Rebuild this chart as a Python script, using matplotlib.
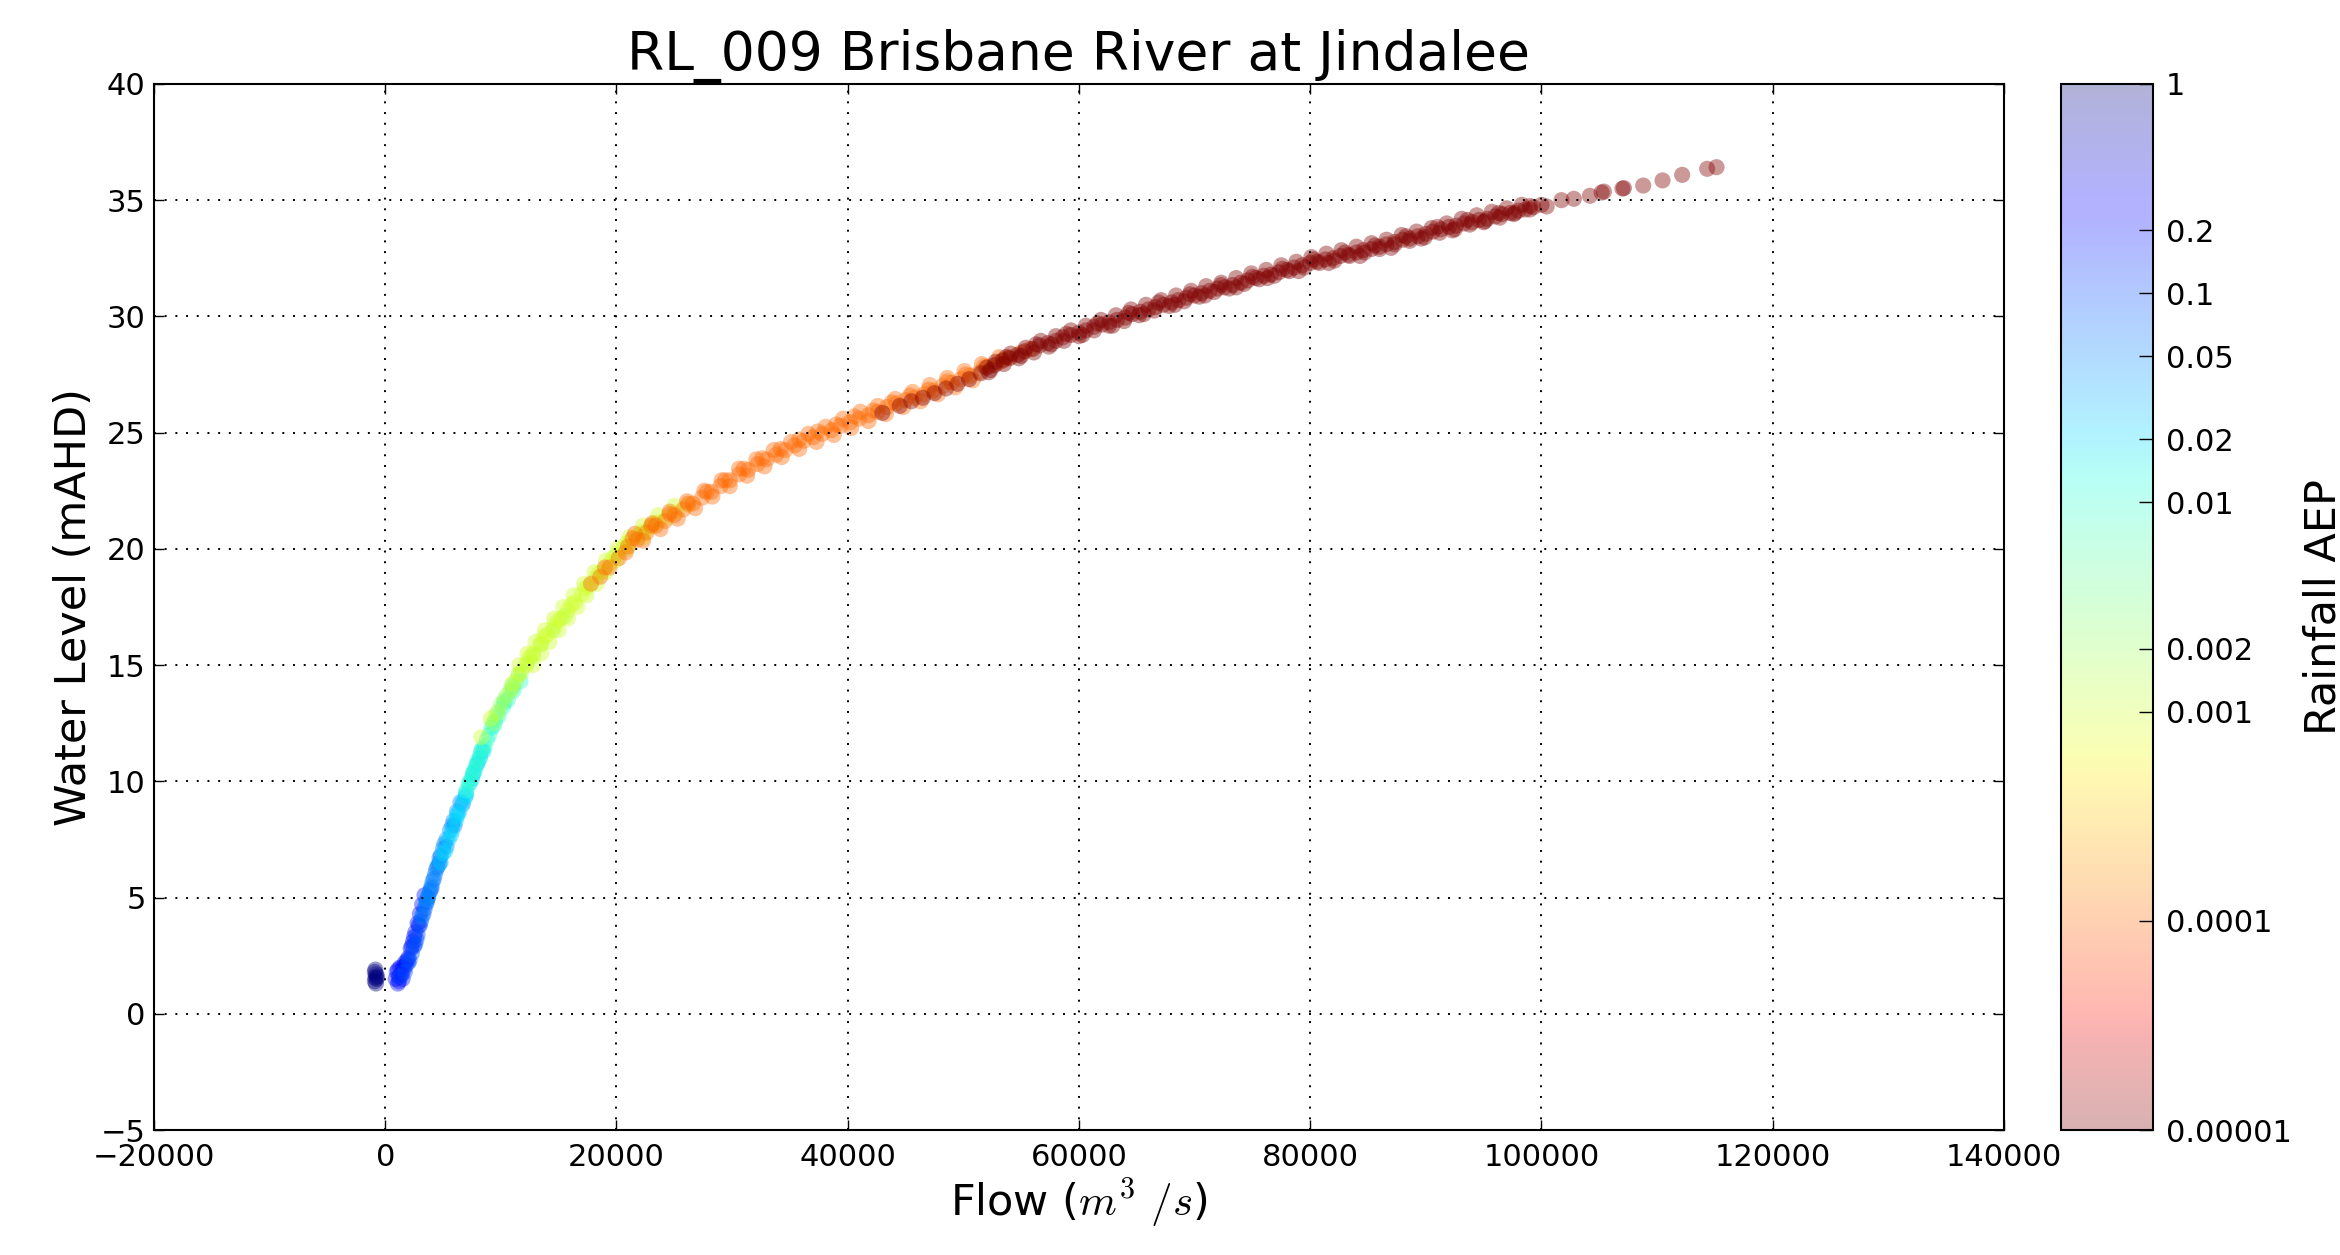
import numpy as np
import matplotlib
matplotlib.use("Agg")
import matplotlib.pyplot as plt
from matplotlib.colors import LogNorm

plt.rcParams["font.family"] = "DejaVu Sans"
plt.rcParams["mathtext.fontset"] = "cm"

# (flow m3/s, water level mAHD), grouped by rainfall AEP
pts_1 = [(-900, 1.4), (-800, 1.7), (-850, 1.9), (-750, 1.5), (-900, 1.8),
         (-700, 1.6), (-800, 1.3), (-850, 1.55)]
pts_0_2 = [(900, 1.5), (1000, 1.8), (1100, 1.3), (1200, 1.6), (1300, 2.0),
           (1500, 1.5), (1600, 1.9), (1800, 2.1), (2000, 2.4), (2200, 2.8),
           (2400, 3.1), (2600, 3.5), (2800, 3.9), (3000, 4.3), (3200, 4.7),
           (3400, 5.1), (1100, 1.9), (1400, 1.7), (1700, 2.2), (2500, 3.3),
           (1200, 1.4), (1500, 2.0), (1900, 2.3), (2300, 2.9), (2900, 3.8)]
pts_0_1 = [(1300, 1.6), (1700, 1.8), (2000, 2.2), (2300, 2.6), (2600, 3.0),
           (2800, 3.4), (3000, 3.8), (3300, 4.3), (3600, 4.8), (3900, 5.3),
           (4200, 5.8), (4500, 6.3), (4800, 6.8), (2500, 2.9), (3100, 4.0),
           (3700, 5.0), (2100, 2.3), (2700, 3.2), (3400, 4.5), (4000, 5.4),
           (4700, 6.5)]
pts_0_05 = [(3200, 4.2), (3500, 4.7), (3800, 5.2), (4100, 5.7), (4400, 6.2),
            (4700, 6.7), (5000, 7.1), (5300, 7.5), (5600, 7.9), (5900, 8.3),
            (6200, 8.7), (6500, 9.1), (3700, 5.0), (4300, 6.0), (5100, 7.3),
            (5800, 8.1), (3600, 4.9), (4000, 5.5), (4600, 6.4), (5300, 7.2),
            (6000, 8.1), (6700, 9.0)]
pts_0_02 = [(4800, 6.5), (5200, 7.0), (5500, 7.5), (5800, 7.9), (6100, 8.3),
            (6400, 8.7), (6700, 9.1), (7000, 9.5), (7300, 9.9), (7600, 10.3),
            (7900, 10.7), (8200, 11.0), (8500, 11.3), (6200, 8.5), (6900, 9.3),
            (7500, 10.1), (8000, 10.8), (5000, 6.9), (5700, 7.7), (6300, 8.6),
            (7000, 9.4), (7700, 10.4), (8300, 11.3)]
pts_0_01 = [(7000, 9.6), (7400, 10.1), (7800, 10.6), (8200, 11.1), (8600, 11.5),
            (9000, 12.0), (9400, 12.4), (9800, 12.8), (10200, 13.2), (10600, 13.5),
            (11100, 13.9), (11700, 14.3), (7600, 10.4), (8400, 11.4), (9200, 12.3),
            (8000, 10.9), (8800, 11.8), (9500, 12.6), (10300, 13.4), (11000, 14.1),
            (7200, 9.9)]
pts_0_002 = [(9300, 12.5), (9800, 13.0), (10300, 13.5), (10800, 13.9), (11300, 14.3),
             (11800, 14.7), (12300, 15.1), (10000, 13.3), (11000, 14.0), (12800, 15.4),
             (13500, 15.9), (14500, 16.5), (15500, 17.1), (9600, 12.9), (10500, 13.7),
             (11500, 14.6)]
pts_0_001 = [(8300, 11.9), (9100, 12.7), (11000, 14.2), (11600, 14.6), (12200, 15.0),
             (12800, 15.5), (13400, 15.9), (14000, 16.3), (14600, 16.65), (15200, 17.0),
             (15800, 17.35), (16400, 17.7), (17000, 18.05), (17600, 18.4), (18200, 18.75),
             (18800, 19.05), (19400, 19.35), (20000, 19.75), (20600, 20.05), (21200, 20.3),
             (21800, 20.55), (22400, 20.75), (23000, 20.95), (23600, 21.15), (24400, 21.35),
             (25200, 21.6), (26200, 21.9), (12500, 15.35), (13700, 16.2), (14900, 16.9),
             (16100, 17.6), (17300, 18.3), (18500, 18.95), (19700, 19.6), (20900, 20.25),
             (22100, 20.7), (23300, 21.1),
             (11600, 15.0), (12300, 15.5), (13000, 16.0), (13800, 16.5), (14600, 17.0),
             (15400, 17.5), (16300, 18.0), (17200, 18.5), (18100, 19.0), (19100, 19.5),
             (20100, 20.0), (21100, 20.5), (22300, 21.0), (23600, 21.45), (25000, 21.85),
             (12800, 15.0), (13500, 15.5), (14200, 16.0), (15000, 16.5), (15800, 17.0),
             (16600, 17.5), (17400, 18.0), (18300, 18.5), (19100, 19.0), (20000, 19.5),
             (20900, 20.0), (22300, 20.5)]
pts_0_0001 = [(17800, 18.5), (18600, 18.8), (19400, 19.2), (20200, 19.6), (21000, 20.1),
              (21800, 20.4), (22600, 20.7), (23400, 21.0), (24200, 21.2), (25000, 21.45),
              (25800, 21.7), (26600, 21.95), (27400, 22.2), (28200, 22.45), (29000, 22.7),
              (29800, 22.95), (30600, 23.2), (31400, 23.4), (32200, 23.65), (33000, 23.85),
              (33800, 24.05), (34600, 24.25), (35400, 24.45), (36200, 24.65), (37000, 24.8),
              (37800, 24.95), (38600, 25.1), (39400, 25.3), (40200, 25.45), (41000, 25.6),
              (41800, 25.75), (42600, 25.9), (43400, 26.1), (44200, 26.25), (45000, 26.4),
              (45800, 26.5), (46600, 26.65), (47400, 26.8), (48200, 27.0), (49000, 27.15),
              (49800, 27.3), (50600, 27.45), (51400, 27.6), (52200, 27.85), (53000, 28.0),
              (54000, 28.25), (55000, 28.45),
              (19000, 19.2), (21400, 20.45), (23000, 21.0), (24600, 21.5), (26200, 21.95),
              (27800, 22.45), (29400, 22.95), (31000, 23.45), (32600, 23.9), (34200, 24.3),
              (35800, 24.7), (37400, 25.05), (39000, 25.35), (40600, 25.7), (42200, 25.95),
              (43800, 26.3), (45400, 26.6), (47000, 26.85), (48600, 27.2), (50200, 27.5),
              (51800, 27.85), (53500, 28.15), (55800, 28.6),
              (20800, 19.85), (22300, 20.35), (23800, 20.85), (25300, 21.3), (26800, 21.75),
              (28300, 22.25), (29800, 22.7), (31300, 23.15), (32800, 23.55), (34300, 23.95),
              (35800, 24.3), (37300, 24.6), (38800, 24.9), (40300, 25.2), (41800, 25.5),
              (43300, 25.8), (44800, 26.1), (46300, 26.35), (47800, 26.65), (49300, 26.95),
              (50800, 27.25),
              (21600, 20.65), (23100, 21.1), (24600, 21.6), (26100, 22.05), (27600, 22.5),
              (29100, 22.95), (30600, 23.45), (32100, 23.85), (33600, 24.25), (35100, 24.6),
              (36600, 24.95), (38100, 25.25), (39600, 25.6), (41100, 25.9), (42600, 26.15),
              (44100, 26.45), (45600, 26.75), (47100, 27.05), (48600, 27.35), (50100, 27.65),
              (51600, 27.95), (53100, 28.25)]
pts_0_00001 = [(43000, 25.85), (44500, 26.15), (45500, 26.35), (46500, 26.5), (47500, 26.7),
               (48500, 26.9), (49500, 27.1), (50500, 27.3), (51500, 27.55),
               (52000, 27.8), (52700, 27.9), (53400, 28.1), (54000, 28.2), (54700, 28.35),
               (55300, 28.5), (56000, 28.6), (56600, 28.75), (57300, 28.85), (58000, 28.95),
               (58600, 29.1), (59300, 29.2), (60000, 29.3), (60600, 29.4), (61300, 29.55),
               (62000, 29.65), (62600, 29.75), (63300, 29.85), (64000, 29.95), (64600, 30.1),
               (65300, 30.2), (66000, 30.3), (66600, 30.4), (67300, 30.5), (68000, 30.6),
               (68600, 30.7), (69300, 30.8), (70000, 30.9), (70600, 31.0), (71300, 31.1),
               (72000, 31.2), (72600, 31.25), (73300, 31.35), (74000, 31.45), (74600, 31.55),
               (75300, 31.65), (76000, 31.75), (76600, 31.8), (77300, 31.9), (78000, 32.0),
               (78600, 32.1), (79300, 32.2), (80000, 32.3), (80600, 32.35), (81300, 32.45),
               (82000, 32.5), (82600, 32.6), (83300, 32.65), (84000, 32.75), (84600, 32.85),
               (85300, 32.9), (86000, 33.0), (86600, 33.1), (87300, 33.2), (88000, 33.3),
               (88600, 33.35), (89300, 33.45), (90000, 33.55), (90600, 33.65), (91300, 33.75),
               (92000, 33.85), (92600, 33.9), (93300, 34.0), (94000, 34.05), (94600, 34.15),
               (95300, 34.2), (96000, 34.3), (96600, 34.4), (97300, 34.45), (98000, 34.55),
               (98600, 34.6), (99300, 34.7),
               (52350, 27.7), (53700, 28.25), (55000, 28.3), (56300, 28.8), (57600, 28.8),
               (58900, 29.25), (60300, 29.2), (61600, 29.7), (62900, 29.6), (64300, 30.15),
               (65600, 30.1), (66900, 30.6), (68300, 30.5), (69600, 30.95), (70900, 30.9),
               (72300, 31.35), (73600, 31.25), (75000, 31.7), (76300, 31.65), (77600, 32.05),
               (79000, 31.95), (80300, 32.45), (81600, 32.3), (83000, 32.75), (84300, 32.6),
               (85600, 33.05), (87000, 32.95), (88300, 33.45), (89600, 33.35), (91000, 33.85),
               (92300, 33.7), (93600, 34.15), (95000, 34.05), (96300, 34.45), (97600, 34.4),
               (99000, 34.75),
               (52200, 27.6), (53500, 27.95), (54800, 28.2), (56100, 28.45), (57400, 28.7),
               (58700, 28.95), (60000, 29.15), (61300, 29.4), (62600, 29.6), (63900, 29.8),
               (65200, 30.05), (66500, 30.25), (67800, 30.45), (69100, 30.65), (70400, 30.85),
               (71700, 31.05), (73000, 31.2), (74300, 31.4), (75600, 31.6), (76900, 31.75),
               (78200, 31.95), (79500, 32.1), (80800, 32.3), (82100, 32.4), (83400, 32.6),
               (84700, 32.75), (86000, 32.9), (87300, 33.1), (88600, 33.25), (89900, 33.4),
               (91200, 33.6), (92500, 33.75), (93800, 33.95), (95100, 34.1), (96400, 34.25),
               (97700, 34.45), (99000, 34.6),
               (52800, 28.05), (54100, 28.4), (55400, 28.65), (56700, 28.95), (58000, 29.15),
               (59300, 29.4), (60600, 29.6), (61900, 29.85), (63200, 30.05), (64500, 30.3),
               (65800, 30.5), (67100, 30.7), (68400, 30.9), (69700, 31.1), (71000, 31.3),
               (72300, 31.45), (73600, 31.65), (74900, 31.85), (76200, 32.0), (77500, 32.2),
               (78800, 32.35), (80100, 32.55), (81400, 32.7), (82700, 32.85), (84000, 33.0),
               (85300, 33.15), (86600, 33.3), (87900, 33.5), (89200, 33.65), (90500, 33.8),
               (91800, 34.0), (93100, 34.2), (94400, 34.35), (95700, 34.5), (97000, 34.65),
               (98300, 34.8),
               (100000, 34.8), (100450, 34.73), (101730, 35.0), (102800, 35.06), (104190, 35.19),
               (105400, 35.37), (105200, 35.33), (107130, 35.52), (107000, 35.5), (108800, 35.63),
               (110470, 35.85), (112170, 36.09), (114330, 36.35), (115140, 36.42)]

aep_classes = [1, 0.2, 0.1, 0.05, 0.02, 0.01, 0.002, 0.001, 0.0001, 0.00001]
aep_groups = [pts_1, pts_0_2, pts_0_1, pts_0_05, pts_0_02, pts_0_01,
              pts_0_002, pts_0_001, pts_0_0001, pts_0_00001]
cbar_labels = ["1", "0.2", "0.1", "0.05", "0.02", "0.01", "0.002", "0.001",
               "0.0001", "0.00001"]

flow, level, aep = [], [], []
for value, group in zip(aep_classes, aep_groups):
    for f, l in group:
        flow.append(f)
        level.append(l)
        aep.append(value)

fig = plt.figure(figsize=(23.4, 12.55), dpi=100)
ax = fig.add_axes([0.0658, 0.0996, 0.7906, 0.8335])
cax = fig.add_axes([0.8808, 0.0996, 0.0393, 0.8335])

sc = ax.scatter(flow, level, c=aep, s=135, cmap="jet_r",
                norm=LogNorm(vmin=1e-5, vmax=1), alpha=0.4, linewidths=0)

ax.set_xlim(-20000, 140000)
ax.set_ylim(-5, 40)
ax.set_xticks(np.arange(-20000, 140001, 20000))
ax.set_yticks(np.arange(-5, 41, 5))
ax.grid(True, color="black", linestyle=(0, (1, 4.5)), linewidth=1.4)
ax.tick_params(direction="in", top=True, right=True, length=7, width=1,
               labelsize=22)
ax.tick_params(axis="y", pad=6)
ax.tick_params(axis="x", pad=9)
for sp in ax.spines.values():
    sp.set_linewidth(1.5)

ax.set_title("RL_009 Brisbane River at Jindalee", fontsize=38.5, pad=10)
ax.set_xlabel("Flow ($m^3$ $/s$)", fontsize=31)
ax.set_ylabel("Water Level (mAHD)", fontsize=31)

cb = fig.colorbar(sc, cax=cax)
cb.solids.set_alpha(0.3)
cb.set_ticks(aep_classes)
cb.set_ticklabels(cbar_labels)
cb.ax.minorticks_off()
cb.ax.tick_params(direction="in", length=10, width=1, labelsize=22, pad=9)
cb.outline.set_linewidth(1.5)
cb.set_label("Rainfall AEP", fontsize=31, labelpad=8)

fig.savefig("out.png", dpi=100)
